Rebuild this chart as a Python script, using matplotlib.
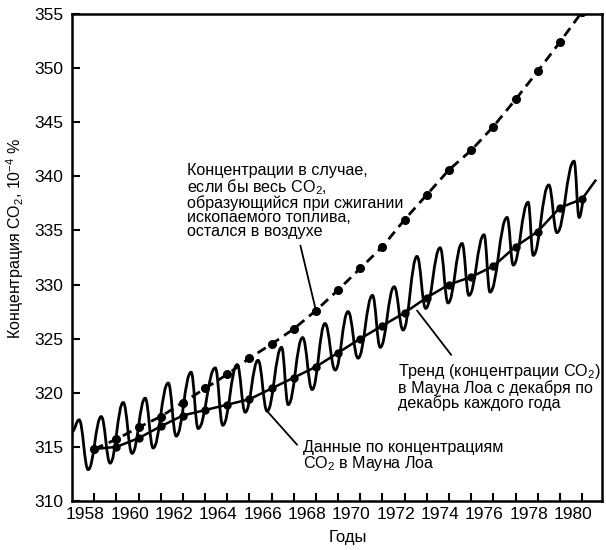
import matplotlib
matplotlib.use('Agg')
import matplotlib.pyplot as plt
from matplotlib.path import Path
from matplotlib.patches import PathPatch
from matplotlib.transforms import ScaledTranslation

plt.rcParams['font.family'] = ['Liberation Sans', 'DejaVu Sans']
plt.rcParams['mathtext.fontset'] = 'custom'
plt.rcParams['mathtext.rm'] = 'Liberation Sans'
plt.rcParams['mathtext.it'] = 'Liberation Sans:italic'
plt.rcParams['mathtext.bf'] = 'Liberation Sans:bold'

# данные
years = list(range(1958, 1981))
fossil = [314.8, 315.7, 316.8, 317.8, 319.1, 320.4, 321.7, 323.2, 324.5, 325.9,
          327.6, 329.5, 331.5, 333.5, 336.0, 338.3, 340.6, 342.4, 344.6, 347.1,
          349.7, 352.4, 355.2]
trend = [314.8, 315.0, 315.8, 316.9, 317.9, 318.4, 318.9, 319.4, 320.4, 321.4,
         322.4, 323.7, 325.0, 326.2, 327.4, 328.8, 330.0, 330.7, 331.7, 333.5,
         334.9, 337.1, 337.9]
trend_end = (1980.6, 339.6)

# сезонные максимумы и минимумы (Мауна Лоа)
peak_t = [1957.32, 1958.32, 1959.31, 1960.30, 1961.34, 1962.37, 1963.46, 1964.45,
          1965.39, 1966.45, 1967.40, 1968.41, 1969.45, 1970.55, 1971.53, 1972.56,
          1973.60, 1974.59, 1975.58, 1976.62, 1977.57, 1978.50, 1979.64]
peak_v = [317.5, 317.8, 319.1, 319.5, 320.9, 321.9, 322.3, 322.6, 323.0, 324.2,
          325.1, 326.4, 327.5, 329.0, 329.8, 332.6, 333.4, 333.8, 334.6, 336.2,
          337.6, 339.2, 341.4]
trough_t = [1957.73, 1958.72, 1959.71, 1960.66, 1961.70, 1962.69, 1963.80, 1964.81,
            1965.80, 1966.75, 1967.83, 1968.87, 1969.90, 1970.90, 1971.93, 1972.95,
            1973.96, 1974.90, 1975.85, 1976.90, 1977.80, 1978.87, 1979.87]
trough_v = [312.9, 313.5, 314.4, 314.9, 316.0, 316.7, 317.0, 318.2, 318.3, 318.9,
            320.3, 322.1, 323.2, 324.2, 325.8, 327.8, 328.3, 329.0, 329.3, 331.8,
            332.7, 334.8, 336.2]
curve_start = (1957.0, 316.4)
curve_end = (1980.1, 337.9)

fig = plt.figure(figsize=(6.06, 5.5), dpi=100)
ax = fig.add_axes([72 / 606, 1 - 501 / 550, 530 / 606, 487 / 550])

# сглаженная сезонная кривая через экстремумы
knots = [curve_start]
for pt, pv, tt, tv in zip(peak_t, peak_v, trough_t, trough_v):
    knots.append((pt, pv))
    knots.append((tt, tv))
knots.append(curve_end)
k = 0.42
verts = [knots[0]]
codes = [Path.MOVETO]
for (t0, v0), (t1, v1) in zip(knots[:-1], knots[1:]):
    dt = t1 - t0
    verts += [(t0 + k * dt, v0), (t1 - k * dt, v1), (t1, v1)]
    codes += [Path.CURVE4] * 3
ax.add_patch(PathPatch(Path(verts, codes), fill=False, lw=2.0, edgecolor='black'))

# тренд
ax.plot(years + [trend_end[0]], trend + [trend_end[1]], color='black', lw=1.8)
ax.plot(years, trend, 'o', color='black', ms=5)

# если бы весь CO2 остался в воздухе
ax.plot(years, fossil, color='black', lw=2.0, linestyle=(0, (3.5, 2.2)),
        marker='o', ms=5.5)

ax.set_xlim(1957.0, 1980.9)
ax.set_ylim(310, 355)
ax.set_xticks(years)
ax.set_xticklabels([str(y) if y % 2 == 0 else '' for y in years])
ax.set_yticks(range(310, 356, 5))
ax.tick_params(axis='both', direction='in', length=6, width=1.5, labelsize=12.5,
               colors='black')
ax.tick_params(axis='x', pad=4)
ax.tick_params(axis='y', pad=6)
for lab in ax.get_xticklabels():
    lab.set_transform(lab.get_transform() + ScaledTranslation(-9 / 100, 0, fig.dpi_scale_trans))
for s in ax.spines.values():
    s.set_linewidth(1.8)

ax.set_xlabel('Годы', fontsize=12)
ax.xaxis.set_label_coords(0.52, -0.06)
ax.set_ylabel('Концентрация CO$_2$, 10$^{-4}$ %', fontsize=11.5)
ax.yaxis.set_label_coords(-0.087, 0.54)

fs = 11.6
ls = 0.9
ax.text(1962.18, 341.2, 'Концентрации в случае,\nесли бы весь CO$_2$,\n'
        'образующийся при сжигании\nископаемого топлива,\nостался в воздухе',
        fontsize=fs, va='top', ha='left', linespacing=ls)
ax.text(1971.70, 322.8, 'Тренд (концентрации CO$_2$)\nв Мауна Лоа с декабря по\n'
        'декабрь каждого года', fontsize=fs, va='top', ha='left', linespacing=ls)
ax.text(1967.42, 315.6, 'Данные по концентрациям\nCO$_2$ в Мауна Лоа',
        fontsize=fs, va='top', ha='left', linespacing=ls)

line = dict(arrowstyle='-', lw=1.3, color='black', shrinkA=0, shrinkB=0)
ax.annotate('', xy=(1968.0, 327.6), xytext=(1967.3, 333.6), arrowprops=line)
ax.annotate('', xy=(1972.56, 327.6), xytext=(1974.1, 323.5), arrowprops=line)
ax.annotate('', xy=(1965.8, 318.3), xytext=(1967.15, 315.2), arrowprops=line)

fig.savefig('out.png', dpi=100)
